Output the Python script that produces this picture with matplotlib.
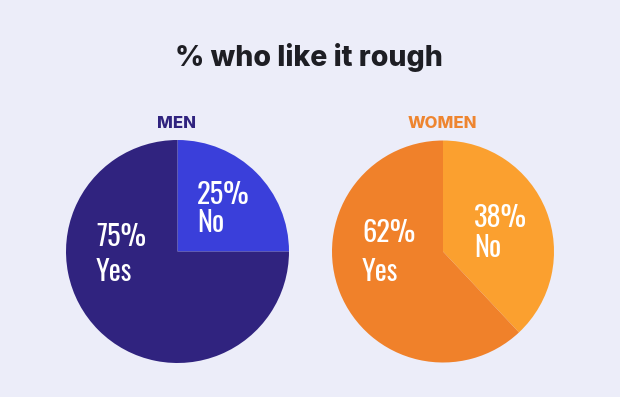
import matplotlib
matplotlib.use("Agg")
import matplotlib.pyplot as plt

# data
groups = ["MEN", "WOMEN"]
labels = ["No", "Yes"]
men_vals = [25, 75]
women_vals = [38, 62]

bg = "#ECEDF9"
men_colors = ["#3A3FDA", "#30237F"]
women_colors = ["#FBA02F", "#F0812A"]

cond = ["Oswald", "Fira Sans Extra Condensed", "DejaVu Sans"]
head = ["Inter", "DejaVu Sans"]

fig = plt.figure(figsize=(6.2, 3.97), dpi=100, facecolor=bg)
ax = fig.add_axes([0, 0, 1, 1])

H = 397
ax.pie(men_vals, colors=men_colors, startangle=90, counterclock=False,
       center=(177.5, H - 251.5), radius=111.5, frame=True)
ax.pie(women_vals, colors=women_colors, startangle=90, counterclock=False,
       center=(443, H - 251.5), radius=111, frame=True)
ax.set_xlim(0, 620)
ax.set_ylim(0, 397)
ax.set_aspect("equal")
ax.axis("off")

ax.text(309, H - 58, "% who like it rough", ha="center", va="center",
        fontsize=20.5, fontweight="heavy", color="#1E1E24", family=head)

ax.text(177, H - 123, groups[0], ha="center", va="center", fontsize=12,
        fontweight="heavy", color="#30237F", family=head)
ax.text(442, H - 123, groups[1], ha="center", va="center", fontsize=12,
        fontweight="heavy", color="#EE8530", family=head)

big = dict(fontsize=20.5, color="white", family=cond,
           ha="left", va="center")

ax.text(197, H - 195, f"{men_vals[0]}%", **big)
ax.text(197, H - 223, labels[0], **big)
ax.text(96, H - 237, f"{men_vals[1]}%", **big)
ax.text(96, H - 272, labels[1], **big)

ax.text(474, H - 218, f"{women_vals[0]}%", **big)
ax.text(474, H - 248, labels[0], **big)
ax.text(362, H - 233, f"{women_vals[1]}%", **big)
ax.text(362, H - 272, labels[1], **big)

fig.savefig("out.png", dpi=100, facecolor=bg)
